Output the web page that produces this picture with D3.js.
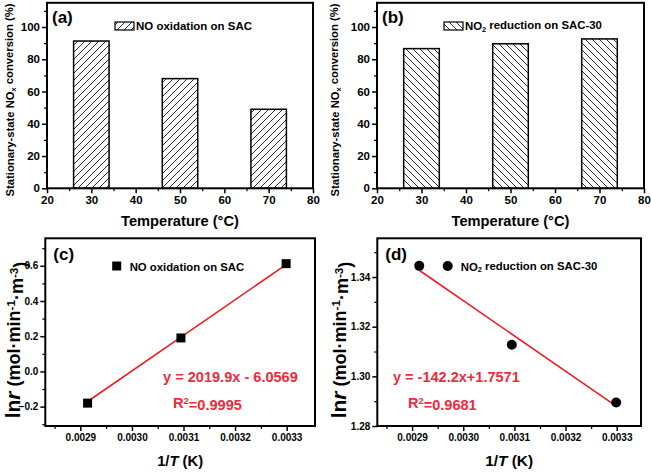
<!DOCTYPE html>
<html><head><meta charset="utf-8">
<script src="https://cdn.jsdelivr.net/npm/d3@7"></script>
<style>body{margin:0;background:#fff}svg{display:block}text{font-family:Arial,"Liberation Sans",sans-serif;font-weight:bold}</style>
</head><body>
<svg id="c" width="651" height="473"></svg>
<script>
// Data
const tempsA = [30, 50, 70];
const convA = [91.3, 68, 49];
const tempsB = [30, 50, 70];
const convB = [86.6, 89.6, 92.6];
const invT_C = [0.002914, 0.003095, 0.003299];
const lnrC = [-0.18, 0.19, 0.612];
const invT_D = [0.002914, 0.003095, 0.003299];
const lnrD = [1.3445, 1.3127, 1.2895];
const fitC = {slope: 2019.9, intercept: -6.0569};
const fitD = {slope: -142.2, intercept: 1.7571};
const barTicks = [20, 30, 40, 50, 60, 70, 80];
const convTicks = [0, 20, 40, 60, 80, 100];
const invTTicks = [0.0029, 0.0030, 0.0031, 0.0032, 0.0033];
const lnrCTicks = [-0.2, 0.0, 0.2, 0.4, 0.6];
const lnrDTicks = [1.28, 1.30, 1.32, 1.34];

const svg = d3.select("#c");
const defs = svg.append("defs");
function hatch(id, dir){
  const p = defs.append("pattern").attr("id", id).attr("patternUnits","userSpaceOnUse")
    .attr("width", 7).attr("height", 7);
  if(dir>0){
    p.append("path").attr("d","M-1,8 L8,-1 M-2,2 L2,-2 M5,9 L9,5");
  } else {
    p.append("path").attr("d","M-1,-1 L8,8 M-2,5 L2,9 M5,-2 L9,2");
  }
  p.select("path").attr("stroke","#111").attr("stroke-width",0.9).attr("fill","none");
}
hatch("hf", 1); hatch("hb", -1);

const RED = "#ee1c24";
const TXTRED = "#ef2a3c";

// scale a text's font-size so that its width matches the reference width
function fitW(sel, w){
  const fs = parseFloat(sel.attr("font-size"));
  const bw = sel.node().getBBox().width;
  if(bw > 0) sel.attr("font-size", fs * w / bw);
  return sel;
}
function sub(t, s){ t.append("tspan").attr("font-size","0.65em").attr("dy","0.25em").text(s); }
function sup(t, s){ t.append("tspan").attr("font-size","0.65em").attr("dy","-0.45em").text(s); }

function frame(g, x0, x1, y0, y1){
  g.append("rect").attr("x", x0).attr("y", y1).attr("width", x1-x0).attr("height", y0-y1)
   .attr("fill","none").attr("stroke","#000").attr("stroke-width",2);
}
function axes(g, x, y, xt, yt, xminor, yminor, xfmt, yfmt, fs){
  const [x0,x1] = x.range(), [y0,y1] = y.range();
  const ax = g.append("g").attr("transform",`translate(0,${y0})`)
    .call(d3.axisBottom(x).tickValues(xt).tickSize(5).tickPadding(3).tickFormat(xfmt));
  const ay = g.append("g").attr("transform",`translate(${x0},0)`)
    .call(d3.axisLeft(y).tickValues(yt).tickSize(5).tickPadding(2).tickFormat(yfmt));
  [ax, ay].forEach(a => {
    a.select(".domain").remove();
    a.selectAll("line").attr("stroke","#000").attr("stroke-width",1.5);
    a.selectAll("text").attr("font-size", fs).attr("fill","#000").style("font-family","Arial, 'Liberation Sans', sans-serif").style("font-weight","bold");
  });
  g.append("g").attr("transform",`translate(0,${y0})`)
    .call(d3.axisBottom(x).tickValues(xminor).tickSize(3).tickFormat(""))
    .call(a => {a.select(".domain").remove(); a.selectAll("line").attr("stroke-width",1.2);});
  g.append("g").attr("transform",`translate(${x0},0)`)
    .call(d3.axisLeft(y).tickValues(yminor).tickSize(3).tickFormat(""))
    .call(a => {a.select(".domain").remove(); a.selectAll("line").attr("stroke-width",1.2);});
  frame(g, x0, x1, y0, y1);
}

function barPanel(left, right, temps, vals, pat, label, legendFn, legX, legW, ytx){
  const g = svg.append("g");
  const x = d3.scaleLinear().domain([20,80]).range([left,right]);
  const y = d3.scaleLinear().domain([0,115]).range([188.3, 2.8]);
  g.selectAll("rect.bar").data(temps).join("rect").attr("class","bar")
    .attr("x", d => x(d-4)).attr("width", d => x(d+4)-x(d-4))
    .attr("y", (d,i) => y(vals[i])).attr("height", (d,i) => y(0)-y(vals[i]))
    .attr("fill", `url(#${pat})`).attr("stroke","#000").attr("stroke-width",1.5);
  axes(g, x, y, barTicks, convTicks, d3.range(25,80,10), d3.range(10,115,20), d3.format("d"), d3.format("d"), 11.5);
  g.append("text").attr("x", left+5).attr("y", 23).attr("font-size",17).text(label);
  g.append("rect").attr("x", legX).attr("y", 22).attr("width", 19).attr("height", 8)
    .attr("fill",`url(#${pat})`).attr("stroke","#000").attr("stroke-width",1.2);
  const t = g.append("text").attr("x", legX+21).attr("y", 30).attr("font-size",12.5);
  legendFn(t);
  fitW(t, legW);
  // x title
  fitW(g.append("text").attr("x", (left+right)/2).attr("y", 226).attr("text-anchor","middle").attr("font-size",16).text("Temperature (\u00B0C)"), 118);
  // y title
  const yt = g.append("text").attr("transform",`translate(${ytx},100) rotate(-90)`).attr("text-anchor","middle").attr("font-size",12);
  yt.append("tspan").text("Stationary-state NO");
  sub(yt, "x");
  yt.append("tspan").attr("dy","-0.25em").text(" conversion (%)");
  fitW(yt, 193);
}

barPanel(47, 313, tempsA, convA, "hf", "(a)", t => t.text("NO oxidation on SAC"), 115, 116, 14);
barPanel(377, 644, tempsB, convB, "hb", "(b)", t => {
  t.append("tspan").text("NO");
  sub(t, "2");
  t.append("tspan").attr("dy","-0.25em").text(" reduction on SAC-30");
}, 444, 137, 339);

function scatterPanel(left, right, ydom, xdom, xs, ys, fit, yt, yminor, yfmt, label, marker, legendFn, legX, legW, eq, eqX, eqW, r2X, ytx, xtW){
  const g = svg.append("g");
  const x = d3.scaleLinear().domain(xdom).range([left,right]);
  const y = d3.scaleLinear().domain(ydom).range([426, 238.3]);
  axes(g, x, y, invTTicks, yt, d3.range(0.00285,0.00335,0.0001).map(v=>+v.toFixed(5)), yminor, d3.format(".4f"), yfmt, 10);
  const xe = d3.extent(xs);
  g.append("line").attr("x1", x(xe[0])).attr("x2", x(xe[1]))
    .attr("y1", y(fit.slope*xe[0]+fit.intercept)).attr("y2", y(fit.slope*xe[1]+fit.intercept))
    .attr("stroke", RED).attr("stroke-width",1.6);
  const drawM = (sel, cx, cy) => {
    if(marker==="sq") sel.append("rect").attr("x",cx-4.5).attr("y",cy-4.5).attr("width",9).attr("height",9).attr("fill","#000");
    else sel.append("circle").attr("cx",cx).attr("cy",cy).attr("r",5).attr("fill","#000");
  };
  xs.forEach((v,i) => drawM(g, x(v), y(ys[i])));
  g.append("text").attr("x", left+8).attr("y", 260).attr("font-size",17).text(label);
  drawM(g, legX, 266);
  const t = g.append("text").attr("x", legX+13).attr("y", 270.5).attr("font-size",12);
  legendFn(t);
  fitW(t, legW);
  const e = fitW(g.append("text").attr("x", eqX).attr("y", 382).attr("font-size",16).attr("fill",TXTRED).text(eq[0]), eqW);
  const r = g.append("text").attr("x", r2X).attr("y", 408).attr("font-size", e.attr("font-size")).attr("fill",TXTRED);
  r.append("tspan").text("R");
  sup(r, "2");
  r.append("tspan").attr("dy","0.45em").text(eq[1]);
  // x title
  const xt = g.append("text").attr("x", (left+right)/2).attr("y", 466).attr("text-anchor","middle").attr("font-size",16);
  xt.append("tspan").text("1/");
  xt.append("tspan").attr("font-style","italic").text("T");
  xt.append("tspan").text(" (K)");
  fitW(xt, xtW);
  // y title
  const ytt = g.append("text").attr("transform",`translate(${ytx},340) rotate(-90)`).attr("text-anchor","middle").attr("font-size",18);
  ytt.append("tspan").attr("font-size",21).text("ln");
  ytt.append("tspan").attr("font-size",21).attr("font-style","italic").text("r");
  ytt.append("tspan").text(" (mol\u00B7min");
  sup(ytt, "-1");
  ytt.append("tspan").attr("dy","0.45em").text("\u00B7m");
  sup(ytt, "-3");
  ytt.append("tspan").attr("dy","0.45em").text(")");
}

scatterPanel(45.3, 315, [-0.31, 0.756], [0.002832, 0.003355], invT_C, lnrC, fitC, lnrCTicks,
  d3.range(-0.3, 0.75, 0.2).map(v=>+v.toFixed(2)), d3.format(".1f"), "(c)", "sq",
  t => t.text("NO oxidation on SAC"), 116.7, 115, ["y = 2019.9x - 6.0569", "=0.9995"], 163, 135, 173, 20, 46);
scatterPanel(377.3, 641, [1.28, 1.3556], [0.002832, 0.0033475], invT_D, lnrD, fitD, lnrDTicks,
  [1.29, 1.31, 1.33, 1.35], d3.format(".2f"), "(d)", "ci",
  t => {
    t.append("tspan").text("NO");
    sub(t, "2");
    t.append("tspan").attr("dy","-0.25em").text(" reduction on SAC-30");
  }, 447.7, 137, ["y = -142.2x+1.7571", "=0.9681"], 393, 127, 408, 345.5, 48);
</script>
</body></html>
